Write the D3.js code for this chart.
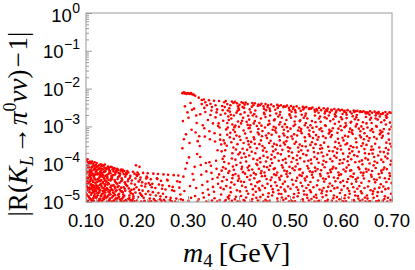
<!DOCTYPE html>
<html><head><meta charset="utf-8">
<script src="https://cdn.jsdelivr.net/npm/d3@7"></script>
<style>html,body{margin:0;padding:0;background:#fff;}svg{display:block;}</style>
</head><body><svg id="c" width="415" height="270"></svg>
<script>
// ---- data ----
const xTickValues = [0.1, 0.2, 0.3, 0.4, 0.5, 0.6, 0.7];
const xTickLabels = ["0.10", "0.20", "0.30", "0.40", "0.50", "0.60", "0.70"];
const yTickExponents = [0, -1, -2, -3, -4, -5];
// each point: [m4 in GeV, log10 |R(K_L -> pi0 nu nu) - 1|]
const lowMassPoints = [
[.103,-3.87],[.107,-4.62],[.101,-4.19],[.109,-4.93],[.104,-3.95],[.100,-4.47],[.106,-4.08],[.102,-4.81],[.108,-4.33],[.105,-4.71],[.101,-3.91],[.107,-4.26],[.103,-4.99],[.109,-4.55],[.100,-4.12],[.104,-4.39],[.106,-4.88],[.102,-4.03],[.108,-4.66],[.105,-4.21],[.101,-4.58],[.107,-3.98],[.103,-4.44],[.109,-4.15],[.100,-4.77],[.104,-4.97],[.106,-4.31],[.102,-4.52],[.108,-3.93],[.105,-4.85],[.101,-4.36],[.107,-4.74],[.103,-4.06],[.109,-4.41],[.100,-3.89],[.104,-4.63],[.106,-4.49],[.102,-4.24],[.108,-4.91],[.105,-4.01],[.101,-4.83],[.107,-4.17],[.103,-4.69],[.109,-4.29],[.100,-4.95],[.104,-4.10],[.106,-3.96],[.102,-4.60],[.108,-4.45],[.105,-4.34],
[.112,-3.93],[.117,-4.57],[.110,-4.22],[.115,-4.89],[.119,-4.02],[.113,-4.68],[.116,-4.35],[.111,-4.96],[.118,-4.13],[.114,-4.47],[.110,-3.97],[.117,-4.79],[.112,-4.28],[.115,-4.61],[.119,-4.41],[.113,-4.06],[.116,-4.84],[.111,-4.18],[.118,-4.72],[.114,-3.99],[.110,-4.53],[.117,-4.11],[.112,-4.99],[.115,-4.32],[.119,-4.64],[.113,-4.25],[.116,-4.04],[.111,-4.76],[.118,-4.49],[.114,-4.91],[.110,-4.37],[.117,-3.95],[.112,-4.59],[.115,-4.15],[.119,-4.86],[.113,-4.43],[.116,-4.67],[.111,-4.09],[.118,-4.27],[.114,-4.74],[.110,-4.81],[.117,-4.39],[.112,-4.07],[.115,-4.97],[.119,-4.20],[.113,-4.55],[.116,-4.30],[.111,-4.63],
[.121,-3.97],[.126,-4.63],[.123,-4.24],[.128,-4.91],[.120,-4.08],[.125,-4.45],[.129,-4.17],[.122,-4.77],[.127,-4.33],[.124,-4.98],[.120,-4.56],[.126,-4.02],[.128,-4.69],[.123,-4.39],[.121,-4.86],[.125,-4.13],[.129,-4.52],[.122,-4.27],[.127,-4.94],[.124,-4.06],[.120,-4.71],[.126,-4.36],[.128,-4.21],[.123,-4.82],[.121,-4.48],[.125,-4.99],[.129,-4.00],[.122,-4.60],[.127,-4.11],[.124,-4.41],[.120,-4.89],[.126,-4.74],[.128,-4.30],[.123,-4.05],[.121,-4.64],[.125,-4.26],[.129,-4.84],[.122,-4.15],[.127,-4.55],[.124,-4.76],[.120,-4.19],[.126,-4.93],[.123,-4.58],[.128,-4.44],[.125,-4.67],
[.132,-4.02],[.137,-4.58],[.130,-4.27],[.135,-4.93],[.139,-4.11],[.133,-4.71],[.136,-4.39],[.131,-4.99],[.138,-4.19],[.134,-4.51],[.130,-4.06],[.137,-4.82],[.132,-4.33],[.135,-4.64],[.139,-4.45],[.133,-4.14],[.136,-4.87],[.131,-4.23],[.138,-4.75],[.134,-4.04],[.130,-4.57],[.137,-4.17],[.132,-4.96],[.135,-4.36],[.139,-4.68],[.133,-4.29],[.136,-4.09],[.131,-4.79],[.138,-4.53],[.134,-4.90],[.130,-4.42],[.137,-4.01],[.132,-4.62],[.135,-4.21],[.139,-4.88],[.133,-4.47],[.136,-4.70],[.131,-4.12],[.138,-4.31],[.134,-4.77],[.130,-4.84],[.137,-4.43],
[.143,-4.06],[.148,-4.61],[.141,-4.29],[.146,-4.95],[.140,-4.13],[.144,-4.73],[.149,-4.38],[.142,-4.86],[.147,-4.18],[.145,-4.52],[.141,-4.99],[.148,-4.24],[.143,-4.67],[.146,-4.09],[.140,-4.46],[.144,-4.82],[.149,-4.57],[.142,-4.34],[.147,-4.91],[.145,-4.15],[.141,-4.63],[.148,-4.43],[.143,-4.11],[.146,-4.76],[.140,-4.88],[.144,-4.26],[.149,-4.07],[.142,-4.54],[.147,-4.70],[.145,-4.97],[.141,-4.37],[.148,-4.80],[.143,-4.49],[.146,-4.21],[.140,-4.65],[.144,-4.41],
[.152,-4.09],[.157,-4.64],[.150,-4.31],[.155,-4.96],[.159,-4.17],[.153,-4.75],[.156,-4.42],[.151,-4.88],[.158,-4.22],[.154,-4.55],[.150,-4.99],[.157,-4.27],[.152,-4.69],[.155,-4.12],[.159,-4.49],[.153,-4.84],[.156,-4.59],[.151,-4.36],[.158,-4.92],[.154,-4.19],[.150,-4.66],[.157,-4.46],[.152,-4.14],[.155,-4.78],[.159,-4.90],[.153,-4.29],[.156,-4.11],[.151,-4.57],[.158,-4.72],[.154,-4.97],[.150,-4.40],[.157,-4.82],
[.161,-4.12],[.166,-4.67],[.163,-4.34],[.168,-4.97],[.160,-4.20],[.165,-4.78],[.169,-4.45],[.162,-4.89],[.167,-4.25],[.164,-4.58],[.160,-4.99],[.166,-4.30],[.168,-4.71],[.163,-4.15],[.161,-4.52],[.165,-4.86],[.169,-4.62],[.162,-4.39],[.167,-4.93],[.164,-4.23],[.160,-4.69],[.166,-4.49],[.168,-4.17],[.163,-4.81],[.161,-4.92],[.165,-4.32],[.169,-4.14],[.162,-4.60],
[.172,-4.15],[.177,-4.70],[.170,-4.37],[.175,-4.98],[.179,-4.23],[.173,-4.80],[.176,-4.48],[.171,-4.91],[.178,-4.28],[.174,-4.61],[.170,-4.99],[.177,-4.33],[.172,-4.74],[.175,-4.18],[.179,-4.55],[.173,-4.87],[.176,-4.65],[.171,-4.42],[.178,-4.95],[.174,-4.26],[.170,-4.72],[.177,-4.52],[.172,-4.20],[.175,-4.84],
[.181,-4.18],[.186,-4.72],[.183,-4.40],[.188,-4.99],[.180,-4.26],[.185,-4.83],[.189,-4.51],[.182,-4.93],[.187,-4.31],[.184,-4.64],[.180,-4.97],[.186,-4.36],[.188,-4.77],[.183,-4.22],[.181,-4.58],[.185,-4.89],[.189,-4.68],[.182,-4.45],[.187,-4.95],
[.192,-4.20],[.197,-4.75],[.190,-4.43],[.195,-4.98],[.199,-4.28],[.193,-4.85],[.196,-4.54],[.191,-4.94],[.198,-4.03],[.194,-4.66],[.190,-4.99],[.197,-4.38],[.192,-4.79],[.195,-4.25],[.199,-4.61],[.193,-4.90],
[.201,-4.22],[.206,-4.77],[.203,-4.46],[.208,-4.99],[.200,-4.31],[.205,-4.07],[.209,-4.57],[.202,-4.87],[.207,-4.35],[.204,-4.68],[.200,-4.96],[.206,-4.41],[.208,-4.81],[.203,-4.27],
[.212,-4.23],[.217,-4.79],[.210,-4.48],[.215,-4.97],[.219,-4.33],[.213,-4.89],[.216,-4.59],[.211,-4.70],[.218,-4.38],[.214,-4.99],[.210,-4.84],[.217,-4.52],
[.221,-4.24],[.226,-4.81],[.223,-4.50],[.228,-4.98],[.220,-4.35],[.225,-4.91],[.229,-4.61],[.222,-4.72],[.227,-4.40],[.224,-4.99],[.226,-4.55],
[.232,-4.25],[.237,-4.83],[.230,-4.52],[.235,-4.96],[.239,-4.37],[.233,-4.92],[.236,-4.63],[.231,-4.74],[.238,-4.99],
[.241,-4.26],[.246,-4.85],[.243,-4.54],[.248,-4.97],[.240,-4.39],[.245,-4.93],[.249,-4.65],[.242,-4.76],[.247,-4.44],
[.252,-4.27],[.257,-4.87],[.250,-4.56],[.255,-4.99],[.259,-4.41],[.253,-4.94],[.256,-4.67],[.251,-4.78],
[.261,-4.28],[.266,-4.89],[.263,-4.58],[.268,-4.98],[.260,-4.43],[.265,-4.95],[.269,-4.69],
[.272,-4.29],[.277,-4.91],[.270,-4.60],[.275,-4.99],[.279,-4.45],[.273,-4.71],
[.281,-4.30],[.286,-4.93],[.283,-4.62],[.285,-4.80],[.284,-4.47]
];
const highMassPoints = [
[.289,-2.12],[.291,-2.11],[.293,-2.13],[.295,-2.12],[.297,-2.14],[.292,-2.10],[.290,-2.86],[.294,-2.47],[.289,-3.58],[.296,-3.21],[.291,-4.33],[.298,-3.97],[.290,-4.95],[.293,-4.71],[.299,-2.63],[.295,-4.12],[.292,-3.34],
[.300,-2.12],[.302,-2.13],[.304,-2.14],[.306,-2.12],[.308,-2.15],[.301,-2.77],[.305,-2.38],[.303,-3.44],[.307,-3.09],[.309,-4.26],[.302,-3.82],[.306,-4.89],[.304,-4.58],[.301,-4.97],[.308,-2.56],
[.311,-2.16],[.314,-2.19],[.317,-2.91],[.312,-2.53],[.319,-3.39],[.315,-3.16],[.313,-4.07],[.318,-3.73],[.316,-4.63],[.311,-4.41],[.319,-4.99],[.314,-4.84],[.316,-2.71],
[.321,-2.24],[.324,-2.68],[.327,-2.41],[.322,-3.26],[.329,-2.97],[.325,-4.02],[.323,-3.52],[.328,-4.55],[.326,-4.28],[.321,-4.93],[.329,-4.76],[.324,-3.81],[.327,-2.30],
[.331,-2.29],[.334,-2.62],[.337,-2.44],[.332,-3.05],[.339,-2.83],[.335,-3.97],[.333,-3.27],[.338,-4.46],[.336,-4.19],[.331,-4.88],[.339,-4.67],[.334,-2.36],[.336,-4.99],[.332,-2.51],
[.341,-2.31],[.344,-2.70],[.347,-2.49],[.342,-3.13],[.349,-2.92],[.345,-4.04],[.343,-3.34],[.348,-4.39],[.346,-4.23],[.341,-4.81],[.349,-4.60],[.344,-2.40],[.347,-4.96],[.342,-3.95],[.346,-2.58],
[.351,-2.32],[.354,-2.76],[.357,-2.55],[.352,-3.18],[.359,-2.99],[.355,-3.91],[.353,-3.40],[.358,-4.35],[.356,-4.12],[.351,-4.73],[.359,-4.52],[.354,-2.44],[.357,-4.99],[.352,-4.90],[.356,-2.63],[.358,-3.63],
[.361,-2.33],[.364,-2.69],[.367,-2.46],[.362,-3.03],[.369,-2.85],[.365,-3.48],[.363,-3.22],[.368,-3.86],[.366,-3.66],[.361,-4.27],[.369,-4.08],[.364,-4.62],[.367,-4.45],[.362,-4.95],[.365,-4.80],[.368,-2.57],[.363,-3.35],[.366,-4.17],[.360,-2.92],
[.374,-2.33],[.371,-2.36],[.378,-2.58],[.372,-2.49],[.377,-2.91],[.370,-3.37],[.375,-3.08],[.379,-2.74],[.373,-3.63],[.376,-4.41],[.371,-3.94],[.378,-4.87],[.374,-4.12],[.370,-4.66],[.377,-3.22],[.372,-4.99],[.376,-3.51],[.379,-4.23],[.373,-2.66],[.375,-4.58],[.371,-3.79],[.378,-3.03],[.374,-4.95],[.372,-3.45],[.377,-2.41],[.370,-4.34],
[.386,-2.34],[.381,-2.52],[.389,-2.38],[.383,-3.17],[.380,-2.83],[.387,-3.71],[.385,-4.48],[.382,-3.29],[.388,-4.06],[.384,-2.69],[.381,-4.83],[.389,-3.56],[.386,-4.97],[.380,-3.98],[.383,-4.62],[.387,-2.95],[.385,-3.42],[.388,-4.29],[.382,-2.61],[.384,-4.74],[.389,-3.09],[.381,-4.18],[.386,-3.85],[.383,-2.44],[.380,-4.91],[.387,-4.37],[.385,-2.79],
[.392,-2.35],[.398,-2.47],[.390,-2.71],[.395,-3.24],[.397,-2.59],[.393,-3.88],[.399,-4.31],[.391,-3.02],[.396,-4.69],[.394,-3.61],[.390,-4.15],[.398,-2.87],[.392,-4.93],[.395,-4.02],[.397,-3.47],[.393,-2.98],[.399,-3.74],[.391,-4.54],[.396,-2.39],[.394,-4.86],[.390,-3.33],[.398,-4.44],[.392,-3.15],[.395,-2.64],[.397,-4.99],[.393,-4.26],[.399,-2.52],
[.405,-2.36],[.401,-2.43],[.408,-2.77],[.403,-3.36],[.400,-2.56],[.406,-4.07],[.409,-3.11],[.402,-4.72],[.407,-3.59],[.404,-2.92],[.400,-4.38],[.405,-3.83],[.409,-4.95],[.401,-3.27],[.408,-4.21],[.403,-2.68],[.406,-4.57],[.402,-3.69],[.407,-2.49],[.404,-4.84],[.400,-3.01],[.405,-4.13],[.409,-3.44],[.401,-4.99],[.408,-2.38],[.403,-3.96],[.406,-2.85],[.404,-4.46],
[.413,-2.37],[.417,-2.41],[.411,-2.63],[.419,-3.05],[.415,-2.88],[.410,-3.72],[.416,-4.34],[.412,-3.19],[.418,-4.78],[.414,-3.93],[.410,-2.51],[.417,-4.09],[.413,-4.61],[.419,-3.48],[.411,-4.97],[.415,-3.31],[.418,-2.72],[.412,-4.25],[.416,-3.62],[.414,-4.88],[.410,-4.47],[.417,-2.96],[.413,-3.81],[.419,-4.16],[.411,-2.43],[.415,-4.71],[.418,-3.39],
[.426,-2.38],[.421,-2.55],[.428,-2.44],[.423,-3.14],[.420,-2.82],[.425,-3.67],[.429,-4.23],[.422,-2.97],[.427,-4.66],[.424,-3.41],[.420,-4.04],[.426,-4.92],[.429,-3.29],[.421,-4.41],[.428,-3.86],[.423,-2.63],[.425,-4.99],[.422,-3.55],[.427,-2.71],[.424,-4.53],[.420,-3.77],[.426,-4.14],[.429,-2.92],[.421,-3.04],[.428,-4.81],[.423,-4.30],[.425,-2.48],
[.431,-2.39],[.437,-2.46],[.434,-2.74],[.439,-3.21],[.432,-2.58],[.436,-3.89],[.430,-4.37],[.438,-3.07],[.433,-4.73],[.435,-3.58],[.439,-4.12],[.431,-2.86],[.437,-4.96],[.434,-3.99],[.430,-3.34],[.436,-4.48],[.432,-3.71],[.438,-2.42],[.433,-4.27],[.435,-2.99],[.439,-4.64],[.431,-3.46],[.437,-3.16],[.434,-4.89],[.430,-2.67],[.436,-4.02],[.432,-4.58],
[.444,-2.40],[.449,-2.53],[.441,-2.44],[.446,-3.12],[.443,-2.79],[.448,-3.78],[.440,-4.45],[.445,-3.26],[.447,-4.81],[.442,-3.95],[.449,-2.64],[.444,-4.18],[.441,-4.69],[.446,-3.52],[.448,-4.99],[.443,-3.37],[.440,-2.91],[.445,-4.32],[.447,-3.64],[.442,-4.87],[.449,-4.06],[.444,-2.98],[.441,-3.84],[.446,-4.57],[.448,-2.47],[.443,-4.24],[.440,-3.47],
[.452,-2.41],[.457,-2.44],[.450,-2.68],[.455,-3.31],[.459,-2.85],[.453,-3.93],[.456,-4.52],[.451,-3.03],[.458,-4.77],[.454,-3.67],[.450,-4.22],[.457,-2.96],[.452,-4.94],[.455,-4.08],[.459,-3.44],[.453,-2.57],[.456,-3.82],[.451,-4.63],[.458,-3.18],[.454,-4.39],[.450,-3.57],[.457,-4.86],[.452,-2.75],[.455,-4.99],[.459,-4.15],[.453,-3.24],[.456,-2.49],[.451,-4.31],
[.463,-2.42],[.468,-2.47],[.461,-2.59],[.466,-3.09],[.460,-2.93],[.464,-3.75],[.469,-4.27],[.462,-3.38],[.467,-4.74],[.465,-3.97],[.461,-2.71],[.468,-4.13],[.463,-4.58],[.466,-3.53],[.460,-4.97],[.464,-3.22],[.469,-2.84],[.462,-4.42],[.467,-3.66],[.465,-4.83],[.461,-4.04],[.468,-3.01],[.463,-3.87],[.466,-4.66],[.460,-2.53],[.464,-4.35],[.469,-3.46],
[.475,-2.43],[.471,-2.56],[.478,-2.46],[.473,-3.16],[.470,-2.81],[.476,-3.71],[.479,-4.36],[.472,-3.04],[.477,-4.69],[.474,-3.49],[.470,-4.11],[.475,-4.91],[.479,-3.27],[.471,-4.48],[.478,-3.91],[.473,-2.66],[.476,-4.99],[.472,-3.61],[.477,-2.74],[.474,-4.57],[.470,-3.82],[.475,-4.22],[.479,-2.95],[.471,-3.11],[.478,-4.78],[.473,-4.29],[.476,-2.51],
[.482,-2.44],[.487,-2.49],[.484,-2.77],[.489,-3.24],[.481,-2.62],[.486,-3.89],[.480,-4.41],[.488,-3.09],[.483,-4.79],[.485,-3.62],[.489,-4.17],[.481,-2.89],[.487,-4.95],[.484,-4.03],[.480,-3.37],[.486,-4.52],[.482,-3.74],[.488,-2.47],[.483,-4.31],[.485,-3.01],[.489,-4.67],[.481,-3.51],[.487,-3.19],[.484,-4.88],[.480,-2.69],[.486,-4.09],[.482,-4.61],[.488,-3.43],
[.494,-2.45],[.499,-2.57],[.491,-2.48],[.496,-3.13],[.493,-2.83],[.498,-3.79],[.490,-4.46],[.495,-3.29],[.497,-4.84],[.492,-3.96],[.499,-2.68],[.494,-4.19],[.491,-4.72],[.496,-3.55],[.498,-4.99],[.493,-3.39],[.490,-2.94],[.495,-4.33],[.497,-3.66],[.492,-4.91],[.499,-4.07],[.494,-3.02],[.491,-3.86],[.496,-4.59],[.498,-2.51],[.493,-4.26],[.490,-3.48],
[.502,-2.46],[.507,-2.49],[.500,-2.71],[.505,-3.33],[.509,-2.87],[.503,-3.94],[.506,-4.54],[.501,-3.06],[.508,-4.79],[.504,-3.69],[.500,-4.24],[.507,-2.99],[.502,-4.96],[.505,-4.11],[.509,-3.46],[.503,-2.61],[.506,-3.84],[.501,-4.65],[.508,-3.21],[.504,-4.41],[.500,-3.58],[.507,-4.88],[.502,-2.77],[.505,-4.99],[.509,-4.16],[.503,-3.26],[.506,-2.53],
[.513,-2.47],[.518,-2.52],[.511,-2.63],[.516,-3.11],[.510,-2.95],[.514,-3.77],[.519,-4.29],[.512,-3.41],[.517,-4.76],[.515,-3.99],[.511,-2.74],[.518,-4.14],[.513,-4.61],[.516,-3.56],[.510,-4.98],[.514,-3.24],[.519,-2.86],[.512,-4.44],[.517,-3.67],[.515,-4.85],[.511,-4.06],[.518,-3.03],[.513,-3.89],[.516,-4.68],[.510,-2.57],[.514,-4.36],[.519,-3.48],
[.525,-2.48],[.521,-2.59],[.528,-2.51],[.523,-3.18],[.520,-2.84],[.526,-3.73],[.529,-4.38],[.522,-3.07],[.527,-4.71],[.524,-3.52],[.520,-4.13],[.525,-4.93],[.529,-3.29],[.521,-4.49],[.528,-3.93],[.523,-2.69],[.526,-4.99],[.522,-3.63],[.527,-2.77],[.524,-4.58],[.520,-3.84],[.525,-4.23],[.529,-2.97],[.521,-3.13],[.528,-4.80],[.523,-4.31],[.526,-2.55],
[.532,-2.49],[.537,-2.54],[.534,-2.79],[.539,-3.26],[.531,-2.66],[.536,-3.91],[.530,-4.43],[.538,-3.11],[.533,-4.81],[.535,-3.64],[.539,-4.19],[.531,-2.91],[.537,-4.96],[.534,-4.05],[.530,-3.39],[.536,-4.55],[.532,-3.76],[.538,-2.52],[.533,-4.33],[.535,-3.03],[.539,-4.69],[.531,-3.53],[.537,-3.21],[.534,-4.89],[.530,-2.72],[.536,-4.11],[.532,-4.63],
[.544,-2.50],[.549,-2.61],[.541,-2.53],[.546,-3.15],[.543,-2.86],[.548,-3.81],[.540,-4.47],[.545,-3.31],[.547,-4.86],[.542,-3.98],[.549,-2.71],[.544,-4.21],[.541,-4.74],[.546,-3.57],[.548,-4.99],[.543,-3.42],[.540,-2.97],[.545,-4.35],[.547,-3.68],[.542,-4.92],[.549,-4.09],[.544,-3.04],[.541,-3.88],[.546,-4.61],[.548,-2.56],[.543,-4.28],[.540,-3.49],
[.557,-2.51],[.552,-2.54],[.559,-2.74],[.554,-3.35],[.550,-2.89],[.556,-3.96],[.553,-4.56],[.558,-3.08],[.551,-4.81],[.555,-3.71],[.559,-4.26],[.552,-3.01],[.557,-4.97],[.554,-4.13],[.550,-3.47],[.556,-2.64],[.553,-3.86],[.558,-4.67],[.551,-3.23],[.555,-4.43],[.559,-3.59],[.552,-4.89],[.557,-2.79],[.554,-4.99],[.550,-4.18],[.556,-3.28],[.553,-2.58],
[.566,-2.52],[.561,-2.57],[.568,-2.66],[.563,-3.13],[.569,-2.97],[.565,-3.79],[.560,-4.31],[.567,-3.43],[.562,-4.77],[.564,-4.01],[.568,-2.76],[.561,-4.16],[.566,-4.63],[.563,-3.58],[.569,-4.98],[.565,-3.26],[.560,-2.88],[.567,-4.46],[.562,-3.69],[.564,-4.87],[.568,-4.08],[.561,-3.05],[.566,-3.91],[.563,-4.70],[.569,-2.61],[.565,-4.38],[.560,-3.50],
[.574,-2.53],[.578,-2.63],[.571,-2.56],[.576,-3.19],[.579,-2.86],[.573,-3.75],[.570,-4.39],[.577,-3.09],[.572,-4.72],[.575,-3.54],[.579,-4.15],[.574,-4.94],[.570,-3.31],[.578,-4.51],[.571,-3.94],[.576,-2.71],[.573,-4.99],[.577,-3.65],[.572,-2.79],[.575,-4.60],[.579,-3.86],[.574,-4.24],[.570,-2.99],[.578,-3.15],[.571,-4.82],[.576,-4.33],[.573,-2.59],
[.587,-2.54],[.582,-2.58],[.585,-2.81],[.580,-3.28],[.588,-2.68],[.583,-3.92],[.589,-4.45],[.581,-3.12],[.586,-4.83],[.584,-3.66],[.580,-4.21],[.588,-2.93],[.582,-4.97],[.585,-4.07],[.589,-3.41],[.583,-4.57],[.587,-3.78],[.581,-2.56],[.586,-4.35],[.584,-3.05],[.580,-4.71],[.588,-3.55],[.582,-3.23],[.585,-4.90],[.589,-2.74],[.583,-4.12],[.587,-4.64],
[.595,-2.55],[.590,-2.63],[.598,-2.58],[.593,-3.17],[.596,-2.88],[.591,-3.83],[.599,-4.48],[.594,-3.33],[.592,-4.87],[.597,-3.99],[.590,-2.73],[.595,-4.22],[.598,-4.76],[.593,-3.59],[.591,-4.99],[.596,-3.44],[.599,-2.99],[.594,-4.37],[.592,-3.70],[.597,-4.93],[.590,-4.11],[.595,-3.06],[.598,-3.89],[.593,-4.62],[.591,-2.59],[.596,-4.29],[.599,-3.51],
[.602,-2.56],[.607,-2.59],[.600,-2.76],[.605,-3.37],[.609,-2.91],[.603,-3.97],[.606,-4.58],[.601,-3.10],[.608,-4.82],[.604,-3.72],[.600,-4.27],[.607,-3.02],[.602,-4.98],[.605,-4.14],[.609,-3.48],[.603,-2.67],[.606,-3.87],[.601,-4.68],[.608,-3.25],[.604,-4.44],[.600,-3.61],[.607,-4.90],[.602,-2.81],[.605,-4.99],[.609,-4.19],[.603,-3.30],[.606,-2.61],
[.613,-2.57],[.618,-2.61],[.611,-2.69],[.616,-3.14],[.610,-2.98],[.614,-3.80],[.619,-4.32],[.612,-3.45],[.617,-4.78],[.615,-4.02],[.611,-2.78],[.618,-4.17],[.613,-4.64],[.616,-3.60],[.610,-4.98],[.614,-3.27],[.619,-2.90],[.612,-4.47],[.617,-3.71],[.615,-4.88],[.611,-4.09],[.618,-3.06],[.613,-3.92],[.616,-4.71],[.610,-2.64],[.614,-4.39],[.619,-3.52],
[.625,-2.58],[.621,-2.66],[.628,-2.60],[.623,-3.20],[.620,-2.88],[.626,-3.76],[.629,-4.40],[.622,-3.10],[.627,-4.73],[.624,-3.55],[.620,-4.16],[.625,-4.95],[.629,-3.32],[.621,-4.52],[.628,-3.95],[.623,-2.73],[.626,-4.99],[.622,-3.66],[.627,-2.81],[.624,-4.61],[.620,-3.87],[.625,-4.25],[.629,-3.00],[.621,-3.16],[.628,-4.83],[.623,-4.34],[.626,-2.62],
[.632,-2.59],[.637,-2.62],[.634,-2.83],[.639,-3.29],[.631,-2.70],[.636,-3.93],[.630,-4.46],[.638,-3.13],[.633,-4.84],[.635,-3.67],[.639,-4.22],[.631,-2.94],[.637,-4.97],[.634,-4.08],[.630,-3.42],[.636,-4.58],[.632,-3.79],[.638,-2.60],[.633,-4.36],[.635,-3.06],[.639,-4.72],[.631,-3.56],[.637,-3.24],[.634,-4.91],[.630,-2.76],[.636,-4.13],[.632,-4.65],
[.644,-2.60],[.649,-2.66],[.641,-2.62],[.646,-3.18],[.643,-2.89],[.648,-3.84],[.640,-4.49],[.645,-3.34],[.647,-4.88],[.642,-4.00],[.649,-2.75],[.644,-4.23],[.641,-4.77],[.646,-3.60],[.648,-4.99],[.643,-3.45],[.640,-3.00],[.645,-4.38],[.647,-3.71],[.642,-4.94],[.649,-4.12],[.644,-3.07],[.641,-3.90],[.646,-4.63],[.648,-2.63],[.643,-4.30],[.640,-3.52],
[.657,-2.60],[.652,-2.63],[.659,-2.77],[.654,-3.38],[.650,-2.92],[.656,-3.98],[.653,-4.59],[.658,-3.11],[.651,-4.83],[.655,-3.73],[.659,-4.28],[.652,-3.03],[.657,-4.98],[.654,-4.15],[.650,-3.49],[.656,-2.69],[.653,-3.88],[.658,-4.69],[.651,-3.26],[.655,-4.45],[.659,-3.62],[.652,-4.91],[.657,-2.82],[.654,-4.99],[.650,-4.20],[.656,-3.31],[.653,-2.65],
[.666,-2.61],[.661,-2.64],[.668,-2.71],[.663,-3.15],[.669,-2.99],[.665,-3.81],[.660,-4.33],[.667,-3.46],[.662,-4.79],[.664,-4.03],[.668,-2.79],[.661,-4.18],[.666,-4.65],[.663,-3.61],[.669,-4.98],[.665,-3.28],[.660,-2.91],[.667,-4.48],[.662,-3.72],[.664,-4.89],[.668,-4.10],[.661,-3.07],[.666,-3.93],[.663,-4.72],[.669,-2.66],[.665,-4.40],[.660,-3.53],
[.674,-2.62],[.678,-2.68],[.671,-2.64],[.676,-3.21],[.679,-2.89],[.673,-3.77],[.670,-4.41],[.677,-3.11],[.672,-4.74],[.675,-3.56],[.679,-4.17],[.674,-4.96],[.670,-3.33],[.678,-4.53],[.671,-3.96],[.676,-2.74],[.673,-4.99],[.677,-3.67],[.672,-2.82],[.675,-4.62],[.679,-3.88],[.674,-4.26],[.670,-3.01],[.678,-3.17],[.671,-4.84],[.676,-4.35],[.673,-2.66],
[.687,-2.62],[.682,-2.65],[.685,-2.84],[.680,-3.30],[.688,-2.71],[.683,-3.94],[.689,-4.47],[.681,-3.14],[.686,-4.85],[.684,-3.68],[.680,-4.23],[.688,-2.95],[.682,-4.97],[.685,-4.09],[.689,-3.43],[.683,-4.59],[.687,-3.80],[.681,-2.67],[.686,-4.37],[.684,-3.07],[.680,-4.73],[.688,-3.57],[.682,-3.25],[.685,-4.92],[.689,-2.77],[.683,-4.14],[.687,-4.66],
[.695,-2.63],[.691,-2.67],[.698,-2.64],[.693,-3.19],[.696,-2.90],[.691,-3.85],[.699,-4.50],[.694,-3.35],[.692,-4.89],[.697,-4.01],[.690,-2.76],[.695,-4.24],[.698,-4.78],[.693,-3.62],[.691,-4.99],[.696,-3.46],[.699,-3.01],[.694,-4.39],[.692,-3.72],[.697,-4.95],[.690,-4.13],[.695,-3.08],[.698,-3.91],[.693,-4.64],[.696,-4.31],[.699,-3.53]
];

// ---- layout ----
const svg = d3.select("#c");
const L = 86, R = 392, T = 13, B = 202;
const x = d3.scaleLinear().domain([0.1, 0.7]).range([L, R]);
const y = d3.scaleLog().domain([1e-5, 1]).range([B, T]);
const frameColor = "#9a9a9a";

svg.append("defs").append("clipPath").attr("id", "clip")
  .append("rect").attr("x", L).attr("y", T).attr("width", R - L).attr("height", B - T);

// points
const allPoints = lowMassPoints.concat(highMassPoints);
svg.append("g").attr("clip-path", "url(#clip)")
  .selectAll("circle").data(allPoints).join("circle")
  .attr("cx", d => x(d[0]))
  .attr("cy", d => y(Math.pow(10, d[1])))
  .attr("r", 1.3)
  .attr("fill", "#ff0000");

// frame
svg.append("rect").attr("x", L).attr("y", T).attr("width", R - L).attr("height", B - T)
  .attr("fill", "none").attr("stroke", frameColor).attr("stroke-width", 1);

// ticks
const yMinor = [];
for (let e = -5; e < 0; e++) for (let k = 2; k <= 9; k++) yMinor.push(k * Math.pow(10, e));
const xMinor = d3.range(0.12, 0.7, 0.02).filter(v => Math.abs(v * 10 - Math.round(v * 10)) > 1e-6);

function styleAxis(g) {
  g.select(".domain").remove();
  g.selectAll("line").attr("stroke", frameColor);
  g.selectAll("text").remove();
}
svg.append("g").attr("transform", `translate(${L},0)`)
  .call(d3.axisLeft(y).tickValues(yTickExponents.map(e => Math.pow(10, e))).tickSizeInner(-6).tickSizeOuter(0)).call(styleAxis);
svg.append("g").attr("transform", `translate(${L},0)`)
  .call(d3.axisLeft(y).tickValues(yMinor).tickSizeInner(-3).tickSizeOuter(0)).call(styleAxis);
svg.append("g").attr("transform", `translate(0,${B})`)
  .call(d3.axisBottom(x).tickValues(xTickValues).tickSizeInner(-6).tickSizeOuter(0)).call(styleAxis);
svg.append("g").attr("transform", `translate(0,${B})`)
  .call(d3.axisBottom(x).tickValues(xMinor).tickSizeInner(-3).tickSizeOuter(0)).call(styleAxis);

// tick labels
const sans = "'Liberation Sans', Arial, Helvetica, sans-serif";
svg.append("g").selectAll("text").data(xTickValues).join("text")
  .attr("x", d => x(d)).attr("y", 227)
  .attr("text-anchor", "middle").attr("font-family", sans).attr("font-size", 18.5)
  .text((d, i) => xTickLabels[i]);

const yl = svg.append("g").selectAll("text").data(yTickExponents).join("text")
  .attr("x", 80).attr("y", d => y(Math.pow(10, d)) + (d === 0 ? 9 : 7))
  .attr("text-anchor", "end").attr("font-family", sans).attr("font-size", 18.5);
yl.append("tspan").text("10");
yl.append("tspan").attr("dy", -9).attr("font-size", 14).attr("dx", 0.5)
  .text(d => d < 0 ? "\u2212" + (-d) : String(d));

// axis titles
const serif = "'Liberation Serif', 'Times New Roman', serif";
const xt = svg.append("text").attr("x", 183).attr("y", 262)
  .attr("font-family", serif).attr("font-size", 28);
xt.append("tspan").attr("font-style", "italic").text("m");
xt.append("tspan").attr("font-size", 19).attr("dy", 5).text("4");
xt.append("tspan").attr("dy", -5).attr("dx", 6).text("[GeV]");

const yt = svg.append("text").attr("transform", "translate(27,124) rotate(-90)")
  .attr("text-anchor", "middle").attr("font-family", serif).attr("font-size", 27);
yt.append("tspan").text("|R(");
yt.append("tspan").attr("font-style", "italic").text("K");
yt.append("tspan").attr("font-style", "italic").attr("font-size", 18).attr("dy", 6).text("L");
yt.append("tspan").attr("dy", -6).attr("dx", 2).text("\u2192");
yt.append("tspan").attr("font-style", "italic").attr("dx", 2).text("\u03c0");
yt.append("tspan").attr("font-size", 18).attr("dy", -11).text("0");
yt.append("tspan").attr("font-style", "italic").attr("dy", 11).text("\u03bd\u03bd");
yt.append("tspan").text(")");
yt.append("tspan").attr("dx", 2).text("\u2212");
yt.append("tspan").attr("dx", 2).text("1|");
</script></body></html>
